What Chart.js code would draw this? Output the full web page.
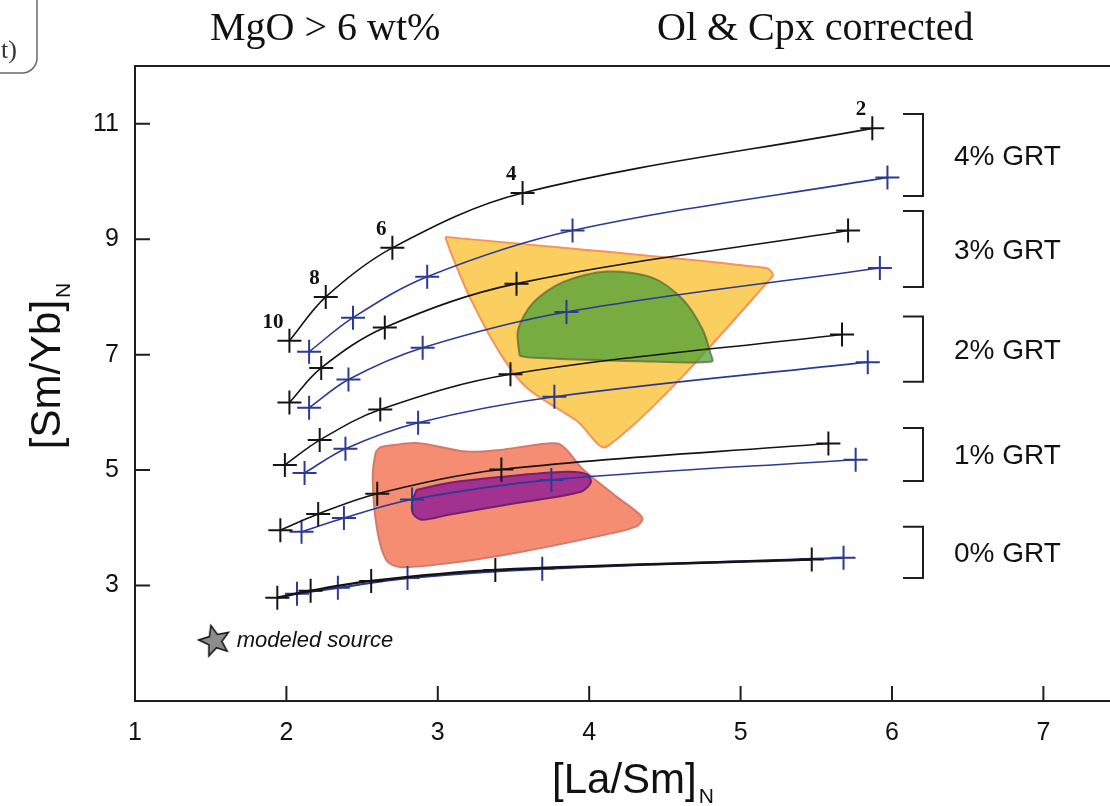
<!DOCTYPE html>
<html>
<head>
<title>[Sm/Yb]N vs [La/Sm]N melting curves</title>
<script src="https://cdn.jsdelivr.net/npm/chart.js"></script>
<style>
  body { margin: 0; background: #fff; }
  #wrap { width: 1110px; height: 806px; }
</style>
</head>
<body>
<div id="wrap"><canvas id="meltChart" width="1110" height="806"></canvas></div>
<script>
// melt percentages marked along the curves (F = 10 ... 2 %)
const meltLabels = ['10', '8', '6', '4', '2'];
const grtLabels = ['4% GRT', '3% GRT', '2% GRT', '1% GRT', '0% GRT'];

// [La/Sm]N, [Sm/Yb]N, one pair per melt step
const black4 = [[2.02, 7.24], [2.26, 8.00], [2.70, 8.85], [3.56, 9.80], [5.87, 10.92]];
const blue4  = [[2.15, 7.05], [2.44, 7.64], [2.93, 8.35], [3.89, 9.15], [5.97, 10.07]];
const black3 = [[2.02, 6.17], [2.23, 6.77], [2.65, 7.47], [3.52, 8.23], [5.71, 9.15]];
const blue3  = [[2.15, 6.08], [2.41, 6.57], [2.90, 7.12], [3.85, 7.74], [5.92, 8.50]];
const black2 = [[1.99, 5.09], [2.22, 5.52], [2.62, 6.05], [3.48, 6.66], [5.67, 7.35]];
const blue2  = [[2.12, 4.95], [2.39, 5.37], [2.87, 5.82], [3.77, 6.27], [5.84, 6.87]];
const black1 = [[1.96, 3.96], [2.21, 4.24], [2.60, 4.59], [3.42, 5.01], [5.58, 5.46]];
const blue1  = [[2.10, 3.93], [2.38, 4.17], [2.83, 4.49], [3.75, 4.83], [5.76, 5.18]];
const black0 = [[1.94, 2.79], [2.16, 2.91], [2.56, 3.08], [3.38, 3.27], [5.47, 3.45]];
const blue0  = [[2.07, 2.86], [2.34, 2.96], [2.80, 3.13], [3.69, 3.29], [5.68, 3.48]];

// sample fields (outlines)
const yellowField = [[3.05, 9.04], [5.17, 8.50], [5.21, 8.35], [4.12, 5.41], [3.92, 5.85],
                     [3.59, 6.42], [3.41, 7.03], [3.21, 8.00], [3.08, 8.81]];
const greenField  = [[3.54, 6.98], [3.53, 7.43], [3.63, 7.90], [3.83, 8.26], [4.12, 8.44],
                     [4.42, 8.33], [4.62, 7.95], [4.75, 7.43], [4.80, 7.03], [4.81, 6.88],
                     [4.42, 6.88], [3.98, 6.91], [3.61, 6.95]];
const salmonField = [[2.62, 5.40], [2.86, 5.47], [3.19, 5.32], [3.41, 5.35], [3.66, 5.44],
                     [3.81, 5.44], [3.96, 5.01], [4.18, 4.54], [4.35, 4.18], [4.31, 4.02],
                     [3.96, 3.80], [3.52, 3.57], [3.08, 3.39], [2.75, 3.32], [2.66, 3.44],
                     [2.60, 3.96], [2.57, 4.83], [2.59, 5.30]];
const purpleField = [[2.86, 4.66], [3.08, 4.78], [3.41, 4.88], [3.85, 4.97], [3.99, 4.92],
                     [4.01, 4.78], [3.94, 4.62], [3.52, 4.43], [3.08, 4.23], [2.90, 4.14],
                     [2.84, 4.23], [2.83, 4.43]];

const modeledSource = [[1.527, 2.04]];

// bracket spans for the GRT groups ([Sm/Yb]N)
const bracketTop    = [11.17, 9.49, 7.66, 5.73, 4.02];
const bracketBottom = [9.75, 8.17, 6.53, 4.81, 3.13];

const xTickValues = [1, 2, 3, 4, 5, 6, 7];
const yTickValues = [3, 5, 7, 9, 11];

const pts = a => a.map(p => ({ x: p[0], y: p[1] }));
const closed = a => pts(a.concat([a[0]]));

const BLACK = '#141414';
const BLUE = '#2b3a94';

function curve(arr, color, width) {
    return {
        data: pts(arr),
        showLine: true,
        borderColor: color,
        borderWidth: width || 1.6,
        tension: 0.35,
        pointStyle: 'cross',
        pointRadius: 12,
        pointBorderWidth: 2,
        pointBorderColor: color,
        order: 0
    };
}

function field(arr, fill, line, order) {
    return {
        data: closed(arr),
        showLine: true,
        fill: 'shape',
        backgroundColor: fill,
        borderColor: line,
        borderWidth: 2,
        tension: 0.3,
        pointRadius: 0,
        order: order
    };
}

// filled star used as the point symbol for the source
const star = document.createElement('canvas');
star.width = 36; star.height = 36;
(function () {
    const c = star.getContext('2d');
    c.translate(18, 18);
    c.rotate(-0.25);
    c.beginPath();
    for (let i = 0; i < 10; i++) {
        const r = i % 2 === 0 ? 16 : 7;
        const a = -Math.PI / 2 + i * Math.PI / 5;
        c.lineTo(r * Math.cos(a), r * Math.sin(a));
    }
    c.closePath();
    c.fillStyle = '#8c8c8c';
    c.fill();
    c.lineWidth = 1.6;
    c.strokeStyle = '#1a1a1a';
    c.stroke();
})();

const decor = {
    id: 'decor',
    afterDraw(chart) {
        const ctx = chart.ctx;
        const xs = chart.scales.x, ys = chart.scales.y;
        const a = chart.chartArea;
        ctx.save();

        // frame top + inward ticks
        ctx.strokeStyle = '#1e1e1e';
        ctx.lineWidth = 2;
        ctx.beginPath();
        ctx.moveTo(a.left, a.top);
        ctx.lineTo(a.right, a.top);
        xTickValues.forEach(v => {
            if (v === xs.min) return;
            const px = xs.getPixelForValue(v);
            ctx.moveTo(px, a.bottom);
            ctx.lineTo(px, a.bottom - 15);
        });
        yTickValues.forEach(v => {
            const py = ys.getPixelForValue(v);
            ctx.moveTo(a.left, py);
            ctx.lineTo(a.left + 15, py);
        });
        ctx.stroke();

        // melt % labels on the 4% GRT curve
        ctx.fillStyle = '#111';
        ctx.font = 'bold 21px "Liberation Serif", "Times New Roman", serif';
        ctx.textAlign = 'right';
        ctx.textBaseline = 'alphabetic';
        black4.forEach((p, i) => {
            const px = xs.getPixelForValue(p[0]);
            const py = ys.getPixelForValue(p[1]);
            ctx.fillText(meltLabels[i], px - 6, py - 13);
        });

        // GRT brackets and labels
        ctx.lineWidth = 2;
        ctx.strokeStyle = '#1e1e1e';
        ctx.font = '28px "Liberation Sans", Arial, sans-serif';
        ctx.textAlign = 'left';
        ctx.textBaseline = 'middle';
        grtLabels.forEach((lab, i) => {
            const t = ys.getPixelForValue(bracketTop[i]);
            const b = ys.getPixelForValue(bracketBottom[i]);
            ctx.beginPath();
            ctx.moveTo(903, t);
            ctx.lineTo(923, t);
            ctx.lineTo(923, b);
            ctx.lineTo(903, b);
            ctx.stroke();
            ctx.fillText(lab, 954, (t + b) / 2 + 2);
        });

        // source legend text
        const sx = xs.getPixelForValue(modeledSource[0][0]);
        const sy = ys.getPixelForValue(modeledSource[0][1]);
        ctx.font = 'italic 22px "Liberation Sans", Arial, sans-serif';
        ctx.textBaseline = 'middle';
        ctx.fillText('modeled source', sx + 22, sy);

        // axis titles with subscript N
        ctx.textBaseline = 'alphabetic';
        ctx.textAlign = 'left';
        const big = '42px "Liberation Sans", Arial, sans-serif';
        const small = '21px "Liberation Sans", Arial, sans-serif';
        ctx.font = big;
        const wx = ctx.measureText('[La/Sm]').width;
        const wy = ctx.measureText('[Sm/Yb]').width;
        ctx.font = small;
        const wn = ctx.measureText('N').width;
        let x0 = 633 - (wx + wn + 2) / 2;
        ctx.font = big;
        ctx.fillText('[La/Sm]', x0, 793);
        ctx.font = small;
        ctx.fillText('N', x0 + wx + 2, 803);

        ctx.save();
        ctx.translate(60, 366);
        ctx.rotate(-Math.PI / 2);
        x0 = -(wy + wn + 2) / 2;
        ctx.font = big;
        ctx.fillText('[Sm/Yb]', x0, 0);
        ctx.font = small;
        ctx.fillText('N', x0 + wy + 2, 10);
        ctx.restore();

        // panel headings
        ctx.font = '40px "Liberation Serif", "Times New Roman", serif';
        ctx.fillText('MgO > 6 wt%', 210, 40);
        ctx.fillText('Ol & Cpx corrected', 657, 40);

        // clipped panel tag at the top-left
        ctx.strokeStyle = '#6a6a6a';
        ctx.lineWidth = 1.5;
        ctx.beginPath();
        ctx.moveTo(37, -5);
        ctx.lineTo(37, 58);
        ctx.arcTo(37, 73, 22, 73, 15);
        ctx.lineTo(-5, 73);
        ctx.stroke();
        ctx.font = '26px "Liberation Serif", "Times New Roman", serif';
        ctx.fillStyle = '#333';
        ctx.fillText('t)', 1, 58);

        ctx.restore();
    }
};

const datasets = [
    curve(black4, BLACK), curve(blue4, BLUE),
    curve(black3, BLACK), curve(blue3, BLUE),
    curve(black2, BLACK), curve(blue2, BLUE),
    curve(black1, BLACK), curve(blue1, BLUE),
    curve(black0, BLACK, 2.4), curve(blue0, BLUE, 2.2),
    field(yellowField, '#fbce60', '#f7935a', 6),
    field(greenField, 'rgba(63,158,51,0.7)', 'rgba(95,105,55,0.75)', 5),
    field(salmonField, '#f48d72', '#d6796b', 6),
    field(purpleField, '#a2318f', '#76206b', 5),
    {
        data: pts(modeledSource),
        pointStyle: star,
        pointRadius: 16,
        order: 0
    }
];

new Chart(document.getElementById('meltChart'), {
    type: 'scatter',
    data: { datasets: datasets },
    options: {
        responsive: false,
        animation: false,
        layout: { autoPadding: false, padding: { top: 66, left: 0, right: 0, bottom: 0 } },
        plugins: { legend: { display: false }, tooltip: { enabled: false } },
        scales: {
            x: {
                type: 'linear',
                min: 1,
                max: 7.44,
                afterBuildTicks: s => { s.ticks = xTickValues.map(v => ({ value: v })); },
                afterFit: s => { s.height = 105; s.paddingLeft = 0; s.paddingRight = 0; },
                grid: { display: false, drawTicks: false },
                border: { display: true, color: '#1e1e1e', width: 2 },
                ticks: {
                    padding: 17,
                    color: '#111',
                    font: { family: '"Liberation Sans", Arial, sans-serif', size: 25 }
                }
            },
            y: {
                type: 'linear',
                min: 1,
                max: 12,
                afterBuildTicks: s => { s.ticks = yTickValues.map(v => ({ value: v })); },
                afterFit: s => { s.width = 135; s.paddingTop = 0; s.paddingBottom = 0; },
                grid: { display: false, drawTicks: false },
                border: { display: true, color: '#1e1e1e', width: 2 },
                ticks: {
                    padding: 16,
                    color: '#111',
                    font: { family: '"Liberation Sans", Arial, sans-serif', size: 25 }
                }
            }
        }
    },
    plugins: [decor]
});
</script>
</body>
</html>
